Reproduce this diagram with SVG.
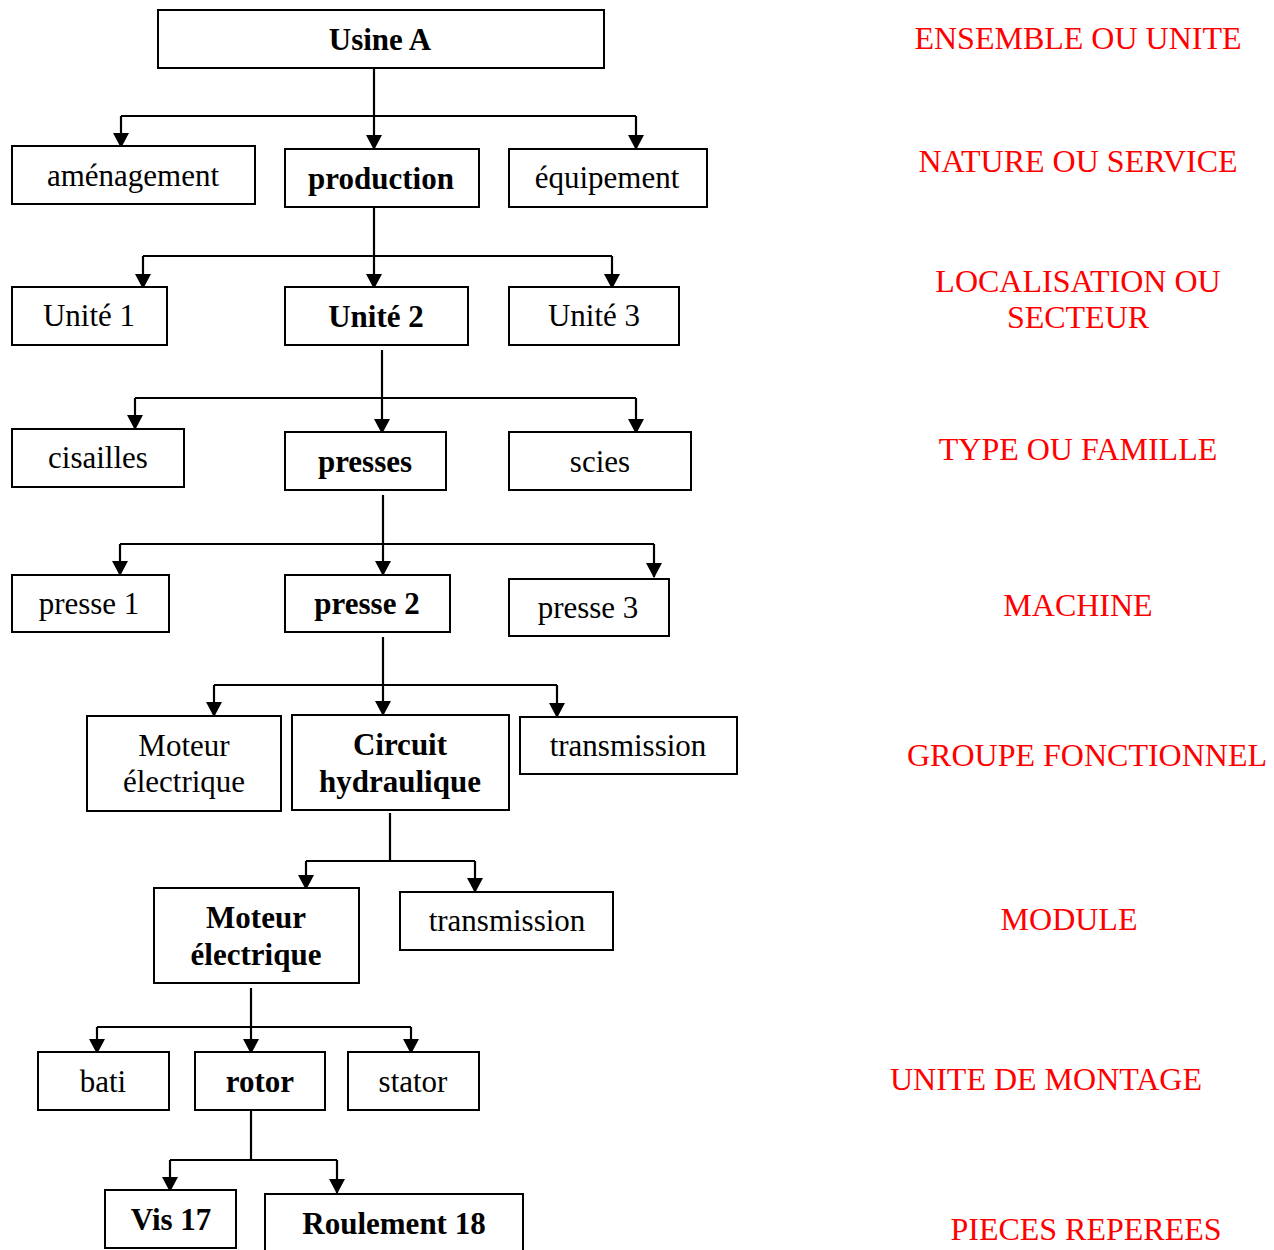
<svg xmlns="http://www.w3.org/2000/svg" width="1274" height="1250" viewBox="0 0 1274 1250">
<style>
.box{fill:#fff;stroke:#000;stroke-width:2}
.t{font-family:"Liberation Serif","Times New Roman",serif;font-size:31px;fill:#000;text-anchor:middle}
.b{font-weight:bold}
.lv{font-family:"Liberation Serif","Times New Roman",serif;font-size:32px;fill:#ff0000;text-anchor:middle}
.c{fill:none;stroke:#000;stroke-width:2.2}
.a{fill:none;stroke:#000;stroke-width:2.2;marker-end:url(#arr)}
</style>
<defs>
<marker id="arr" markerUnits="userSpaceOnUse" markerWidth="16" markerHeight="17" refX="14" refY="8" orient="auto" overflow="visible">
<path d="M0,0 L15,8 L0,16 z" fill="#000"/>
</marker>
</defs>
<rect width="1274" height="1250" fill="#fff"/>
<g id="connectors">
<path class="c" d="M374,68 V116 M121,116 H636"/>
<path class="a" d="M121,116 V147"/><path class="a" d="M374,116 V149"/><path class="a" d="M636,116 V149"/>
<path class="c" d="M374,207 V256 M143,256 H612"/>
<path class="a" d="M143,256 V288"/><path class="a" d="M374,256 V288"/><path class="a" d="M612,256 V288"/>
<path class="c" d="M382,350 V398 M135,398 H636"/>
<path class="a" d="M135,398 V429"/><path class="a" d="M382,398 V433"/><path class="a" d="M636,398 V433"/>
<path class="c" d="M383,495 V544 M120,544 H654"/>
<path class="a" d="M120,544 V575"/><path class="a" d="M383,544 V575"/><path class="a" d="M654,544 V577"/>
<path class="c" d="M383,637 V685 M214,685 H557"/>
<path class="a" d="M214,685 V716"/><path class="a" d="M383,685 V715"/><path class="a" d="M557,685 V717"/>
<path class="c" d="M390,813 V861 M306,861 H475"/>
<path class="a" d="M306,861 V889"/><path class="a" d="M475,861 V892"/>
<path class="c" d="M251,988 V1027 M97,1027 H411"/>
<path class="a" d="M97,1027 V1053"/><path class="a" d="M251,1027 V1053"/><path class="a" d="M411,1027 V1053"/>
<path class="c" d="M251,1110 V1160 M170,1160 H337"/>
<path class="a" d="M170,1160 V1191"/><path class="a" d="M337,1160 V1193"/>
</g>
<g id="usine-a"><rect class="box" x="158" y="10" width="446" height="58"/><text class="t b" x="380" y="50">Usine A</text></g>
<g id="amenagement"><rect class="box" x="12" y="146" width="243" height="58"/><text class="t" x="133" y="186">aménagement</text></g>
<g id="production"><rect class="box" x="285" y="149" width="194" height="58"/><text class="t b" x="381" y="189">production</text></g>
<g id="equipement"><rect class="box" x="509" y="149" width="198" height="58"/><text class="t" x="607" y="188">équipement</text></g>
<g id="unite1"><rect class="box" x="12" y="287" width="155" height="58"/><text class="t" x="89" y="326">Unité 1</text></g>
<g id="unite2"><rect class="box" x="285" y="287" width="183" height="58"/><text class="t b" x="376" y="327">Unité 2</text></g>
<g id="unite3"><rect class="box" x="509" y="287" width="170" height="58"/><text class="t" x="594" y="326">Unité 3</text></g>
<g id="cisailles"><rect class="box" x="12" y="429" width="172" height="58"/><text class="t" x="98" y="468">cisailles</text></g>
<g id="presses"><rect class="box" x="285" y="432" width="161" height="58"/><text class="t b" x="365" y="472">presses</text></g>
<g id="scies"><rect class="box" x="509" y="432" width="182" height="58"/><text class="t" x="600" y="472">scies</text></g>
<g id="presse1"><rect class="box" x="12" y="575" width="157" height="57"/><text class="t" x="89" y="614">presse 1</text></g>
<g id="presse2"><rect class="box" x="285" y="575" width="165" height="57"/><text class="t b" x="367" y="614">presse 2</text></g>
<g id="presse3"><rect class="box" x="509" y="579" width="160" height="57"/><text class="t" x="588" y="618">presse 3</text></g>
<g id="moteur-electrique-1"><rect class="box" x="87" y="716" width="194" height="95"/><text class="t" x="184" y="756">Moteur</text><text class="t" x="184" y="792">électrique</text></g>
<g id="circuit-hydraulique"><rect class="box" x="292" y="715" width="217" height="95"/><text class="t b" x="400" y="755">Circuit</text><text class="t b" x="400" y="792">hydraulique</text></g>
<g id="transmission-1"><rect class="box" x="520" y="717" width="217" height="57"/><text class="t" x="628" y="756">transmission</text></g>
<g id="moteur-electrique-2"><rect class="box" x="154" y="888" width="205" height="95"/><text class="t b" x="256" y="928">Moteur</text><text class="t b" x="256" y="965">électrique</text></g>
<g id="transmission-2"><rect class="box" x="400" y="892" width="213" height="58"/><text class="t" x="507" y="931">transmission</text></g>
<g id="bati"><rect class="box" x="38" y="1052" width="131" height="58"/><text class="t" x="103" y="1092">bati</text></g>
<g id="rotor"><rect class="box" x="195" y="1052" width="130" height="58"/><text class="t b" x="260" y="1092">rotor</text></g>
<g id="stator"><rect class="box" x="348" y="1052" width="131" height="58"/><text class="t" x="413" y="1092">stator</text></g>
<g id="vis17"><rect class="box" x="105" y="1190" width="131" height="58"/><text class="t b" x="171" y="1230">Vis 17</text></g>
<g id="roulement18"><rect class="box" x="265" y="1194" width="258" height="60"/><text class="t b" x="394" y="1234">Roulement 18</text></g>
<g id="levels">
<text class="lv" x="1078" y="49">ENSEMBLE OU UNITE</text>
<text class="lv" x="1078" y="172">NATURE OU SERVICE</text>
<text class="lv" x="1078" y="292">LOCALISATION OU</text>
<text class="lv" x="1078" y="328">SECTEUR</text>
<text class="lv" x="1078" y="460">TYPE OU FAMILLE</text>
<text class="lv" x="1078" y="616">MACHINE</text>
<text class="lv" x="1087" y="766">GROUPE FONCTIONNEL</text>
<text class="lv" x="1069" y="930">MODULE</text>
<text class="lv" x="1046" y="1090">UNITE DE MONTAGE</text>
<text class="lv" x="1086" y="1240">PIECES REPEREES</text>
</g>
</svg>
